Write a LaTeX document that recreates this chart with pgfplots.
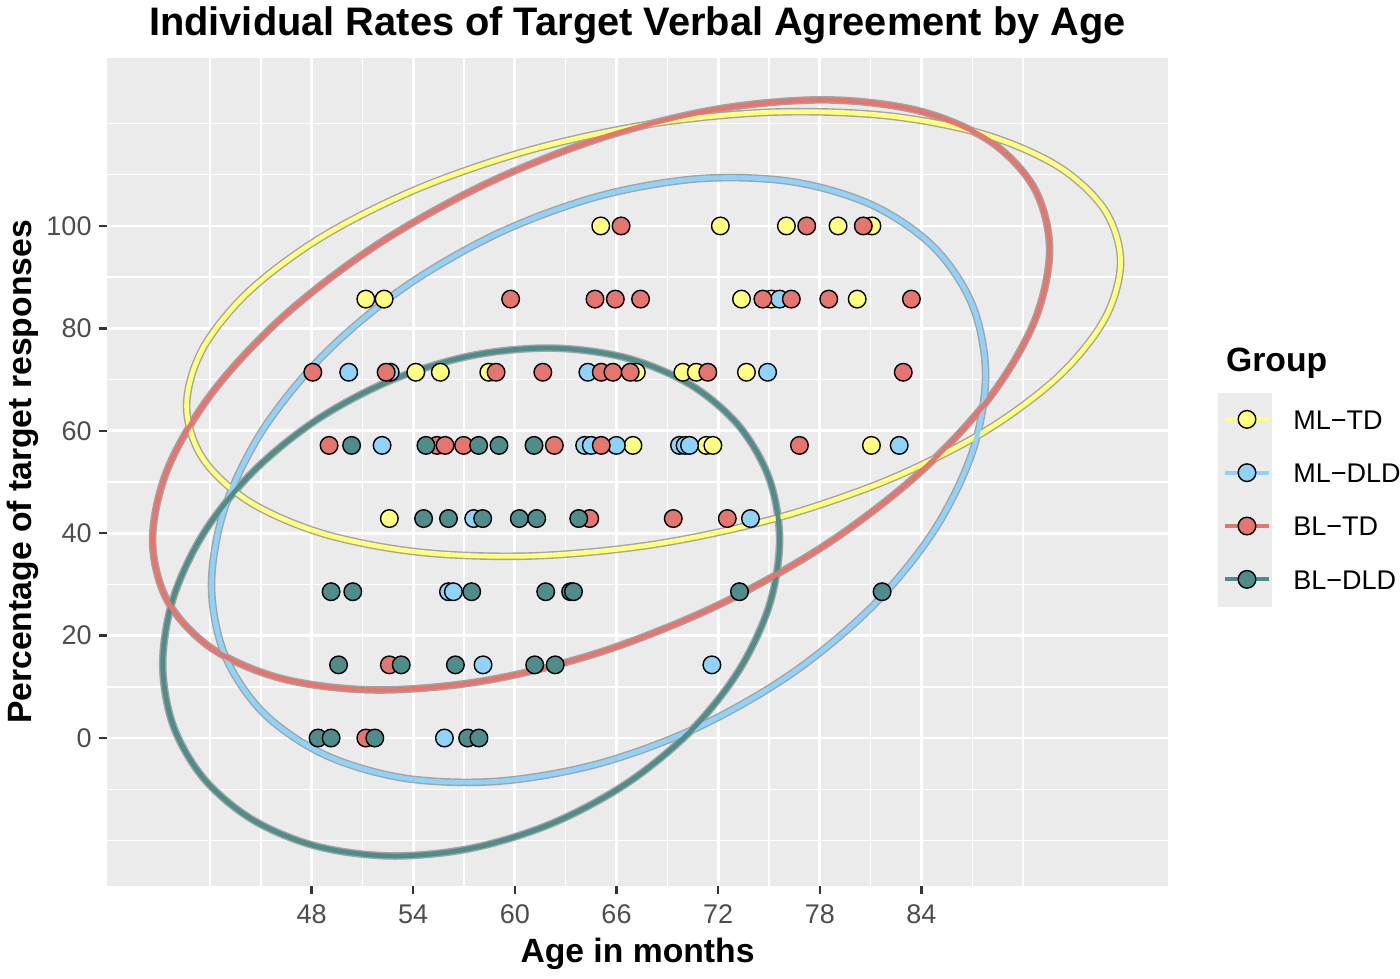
\documentclass[border=0pt]{standalone}
\usepackage{pgfplots}
\pgfplotsset{compat=1.18}
\usepackage{fontspec}
\setmainfont{Liberation Sans}

\definecolor{panel}{HTML}{EBEBEB}
\definecolor{tickgray}{HTML}{333333}
\definecolor{labgray}{HTML}{4D4D4D}
\definecolor{halo}{HTML}{A3A3A3}
\definecolor{mltd}{HTML}{FFFF80}
\definecolor{mldld}{HTML}{8FD3FA}
\definecolor{bltd}{HTML}{E5766F}
\definecolor{bldld}{HTML}{4E8D8A}

\pgfplotsset{
  grp/.style={only marks, mark=*, mark size=4.4pt, draw=black, fill=#1,
    mark options={draw=black, fill=#1, line width=0.7pt},
    legend image code/.code={
      \draw[#1, line width=2pt] (0pt,0pt) -- (21.7pt,0pt);
      \draw[mark repeat=2, mark phase=2, only marks]
        plot coordinates {(0pt,0pt) (10.85pt,0pt) (21.7pt,0pt)};
    }},
  ellhalo/.style={halo, line width=3.8pt, smooth cycle, tension=0.55, forget plot},
  ell/.style={#1, line width=2.4pt, smooth cycle, tension=0.55, forget plot},
}

\begin{document}
\begin{tikzpicture}
\path[use as bounding box] (0,0) rectangle (700pt,489pt);
% key background of the legend
\fill[panel] (609pt,185.65pt) rectangle (636pt,292.65pt);

\begin{axis}[
  at={(53.5pt,46pt)}, anchor=south west,
  scale only axis, width=530.5pt, height=414pt,
  xmin=35.92, xmax=98.56, ymin=-28.9, ymax=132.8,
  axis background/.style={fill=panel},
  axis line style={draw=none},
  tick pos=left, tick align=outside,
  xtick={48,54,...,84}, ytick={0,20,...,100},
  minor xtick={42,45,51,57,63,69,75,81,87,90},
  minor ytick={-20,-10,10,30,50,70,90,110,120},
  grid=both,
  major grid style={white, line width=1.4pt},
  minor grid style={white, line width=0.7pt},
  major tick length=4.2pt, minor tick length=0pt,
  major tick style={tickgray, line width=1.2pt},
  tick label style={font=\fontsize{13.5}{16}\selectfont, text=labgray},
  xticklabel style={yshift=-1.5pt},
  /pgf/number format/assume math mode=true,
  title={Individual Rates of Target Verbal Agreement by Age},
  every axis title/.style={font=\fontsize{19.9}{24}\selectfont\bfseries,
    at={(axis description cs:0.5,1.0266)}, anchor=base},
  xlabel={Age in months},
  ylabel={Percentage of target responses},
  label style={font=\fontsize{16.85}{20}\selectfont\bfseries},
  xlabel style={at={(axis description cs:0.5,-0.0918)}, anchor=base},
  ylabel style={at={(axis description cs:-0.0716,0.5)}, anchor=base},
  legend cell align=left,
  legend style={at={(axis description cs:1.0521,0.5958)}, anchor=north west,
    draw=none, fill=none, inner sep=0pt, outer sep=0pt,
    row sep=0pt, column sep=11.3pt,
    font=\fontsize{13.5}{16}\selectfont,
    nodes={inner sep=0pt, text height=18.17pt, text depth=8.5pt}},
]

% individual children
\addplot[grp=mltd] coordinates {
  (65.07,100) (72.13,100) (76.03,100) (79.08,100) (81.08,100)
  (51.20,85.714) (52.28,85.714) (73.38,85.714) (75.14,85.714) (80.21,85.714)
  (54.15,71.429) (55.60,71.429) (58.46,71.429) (67.17,71.429) (69.92,71.429)
  (70.71,71.429) (73.67,71.429)
  (66.97,57.143) (71.30,57.143) (71.69,57.143) (81.05,57.143)
  (52.59,42.857)
};
\addlegendentry{ML−TD}

\addplot[grp=mldld] coordinates {
  (75.63,85.714)
  (50.19,71.429) (52.64,71.429) (64.31,71.429) (74.92,71.429)
  (52.16,57.143) (64.12,57.143) (64.51,57.143) (65.99,57.143) (69.72,57.143)
  (70.05,57.143) (70.31,57.143) (82.69,57.143)
  (57.57,42.857) (73.91,42.857)
  (56.08,28.571) (56.37,28.571)
  (58.12,14.286) (71.63,14.286)
  (55.84,0)
};
\addlegendentry{ML−DLD}

\addplot[grp=bltd] coordinates {
  (66.27,100) (77.23,100) (80.57,100)
  (59.75,85.714) (64.73,85.714) (65.93,85.714) (67.42,85.714) (74.64,85.714)
  (76.32,85.714) (78.53,85.714) (83.41,85.714)
  (48.07,71.429) (52.40,71.429) (58.89,71.429) (61.65,71.429) (65.10,71.429)
  (65.79,71.429) (66.81,71.429) (71.39,71.429) (82.93,71.429)
  (49.03,57.143) (55.40,57.143) (55.88,57.143) (56.97,57.143) (62.33,57.143)
  (65.10,57.143) (76.80,57.143)
  (64.42,42.857) (69.35,42.857) (72.54,42.857)
  (52.59,14.286)
  (51.20,0)
};
\addlegendentry{BL−TD}

\addplot[grp=bldld] coordinates {
  (50.36,57.143) (54.75,57.143) (57.86,57.143) (59.06,57.143) (61.13,57.143)
  (54.61,42.857) (56.08,42.857) (58.10,42.857) (60.26,42.857) (61.29,42.857)
  (63.77,42.857)
  (49.15,28.571) (50.43,28.571) (57.45,28.571) (61.82,28.571) (63.29,28.571)
  (63.46,28.571) (73.26,28.571) (81.68,28.571)
  (49.59,14.286) (53.29,14.286) (56.49,14.286) (61.17,14.286) (62.38,14.286)
  (48.38,0) (49.15,0) (51.73,0) (57.21,0) (57.88,0)
};
\addlegendentry{BL−DLD}

% 95% ellipse outlines, one table per group
\pgfplotstableread{
x y
95.76 92.96
94.82 103.12
92.07 111.63
87.69 117.90
81.98 121.52
75.33 122.24
68.19 120.00
61.05 114.96
54.40 107.46
48.69 98.02
44.31 87.27
41.56 75.96
40.62 64.84
41.56 54.68
44.31 46.17
48.69 39.90
54.40 36.28
61.05 35.56
68.19 37.80
75.33 42.84
81.98 50.34
87.69 59.78
92.07 70.53
94.82 81.84
}\ellMLTD
\pgfplotstableread{
x y
87.79 70.90
87.01 84.54
84.73 95.86
81.10 104.07
76.37 108.64
70.85 109.22
64.94 105.80
59.03 98.60
53.51 88.12
48.78 75.07
45.15 60.34
42.87 44.92
42.09 29.88
42.87 16.24
45.15 4.92
48.78 -3.29
53.51 -7.86
59.03 -8.44
64.94 -5.02
70.85 2.18
76.37 12.66
81.10 25.71
84.73 40.44
87.01 55.86
}\ellMLDLD
\pgfplotstableread{
x y
91.57 95.32
90.67 107.34
88.02 116.62
83.81 122.51
78.33 124.62
71.94 122.80
65.09 117.18
58.24 108.14
51.85 96.30
46.37 82.45
42.16 67.56
39.51 52.64
38.61 38.68
39.51 26.66
42.16 17.38
46.37 11.49
51.85 9.38
58.24 11.20
65.09 16.82
71.94 25.86
78.33 37.70
83.81 51.55
88.02 66.44
90.67 81.36
}\ellBLTD
\pgfplotstableread{
x y
75.63 38.67
75.01 50.71
73.19 61.10
70.30 69.13
66.53 74.27
62.13 76.15
57.42 74.66
52.71 69.89
48.31 62.15
44.54 52.01
41.65 40.12
39.83 27.31
39.21 14.45
39.83 2.41
41.65 -7.98
44.54 -16.01
48.31 -21.15
52.71 -23.03
57.42 -21.54
62.13 -16.77
66.53 -9.03
70.30 1.11
73.19 13.00
75.01 25.81
}\ellBLDLD

\addplot[ellhalo] table {\ellMLTD};
\addplot[ellhalo] table {\ellMLDLD};
\addplot[ellhalo] table {\ellBLDLD};
\addplot[ellhalo] table {\ellBLTD};
\addplot[ell=mltd] table {\ellMLTD};
\addplot[ell=mldld] table {\ellMLDLD};
\addplot[ell=bldld] table {\ellBLDLD};
\addplot[ell=bltd] table {\ellBLTD};
\end{axis}

\node[anchor=base west, font=\fontsize{16.85}{20}\selectfont\bfseries]
  at (609.5pt,303pt) {Group};
\end{tikzpicture}
\end{document}
